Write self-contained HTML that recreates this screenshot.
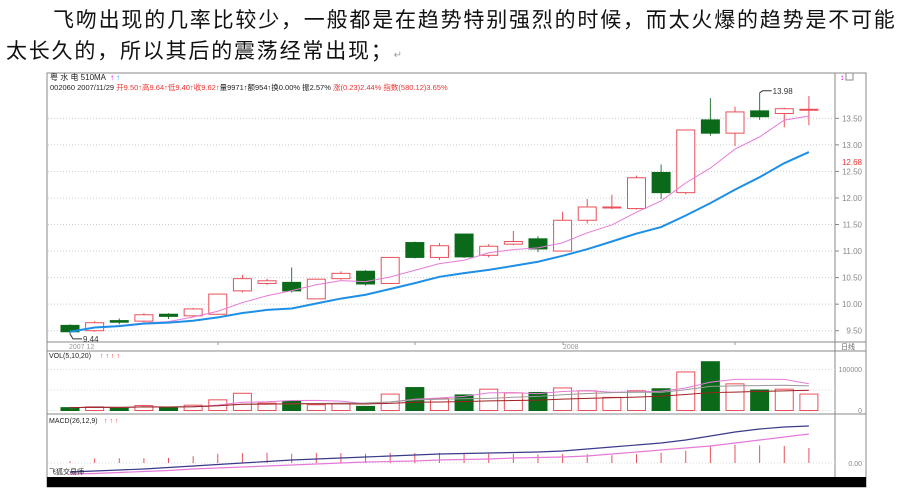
<!DOCTYPE html>
<html><head><meta charset="utf-8">
<style>
body{margin:0;width:915px;height:492px;background:#fff;overflow:hidden;position:relative;font-family:"Liberation Sans","Noto Sans CJK SC",sans-serif;}
.t{position:absolute;font-size:21px;letter-spacing:1.8px;color:#111;white-space:nowrap;font-family:"Liberation Sans","Noto Sans CJK SC",sans-serif;}
svg{position:absolute;left:0;top:0;}
</style></head><body>
<div class="t" style="left:53px;top:4px;">飞吻出现的几率比较少，一般都是在趋势特别强烈的时候，而太火爆的趋势是不可能</div>
<div class="t" style="left:6px;top:35px;">太长久的，所以其后的震荡经常出现；<span style="font-size:10px;color:#999">↵</span></div>
<svg id="chart" width="915" height="492" font-family="Liberation Sans, Noto Sans CJK SC, sans-serif"></svg>
<script>
const opens  =[9.60,9.50,9.69,9.68,9.81,9.78,9.81,10.25,10.39,10.41,10.10,10.48,10.62,10.39,11.16,10.88,11.32,10.92,11.13,11.23,11.00,11.58,11.83,11.80,12.48,12.10,13.47,13.22,13.64,13.59,13.67];
const closes =[9.48,9.65,9.66,9.80,9.77,9.91,10.19,10.48,10.44,10.25,10.47,10.58,10.38,10.88,10.88,11.10,10.89,11.09,11.18,11.04,11.58,11.83,11.83,12.38,12.10,13.28,13.22,13.62,13.53,13.68,13.67];
const highs  =[9.62,9.68,9.73,9.83,9.83,9.93,10.19,10.55,10.48,10.69,10.47,10.62,10.64,10.88,11.18,11.15,11.33,11.13,11.38,11.28,11.74,11.98,12.06,12.42,12.63,13.28,13.88,13.72,13.98,13.70,13.92];
const lows   =[9.44,9.48,9.62,9.66,9.72,9.76,9.81,10.22,10.36,10.22,10.10,10.46,10.35,10.38,10.86,10.83,10.87,10.88,11.11,10.98,11.00,11.52,11.79,11.78,11.98,12.07,13.17,12.98,13.47,13.33,13.37];
const volumes=[7,9,7,12,7,13,26,42,18,23,14,17,10,40,56,29,38,52,43,44,55,48,32,48,53,94,119,65,50,52,40];
const dif =[-0.9,-0.8,-0.7,-0.6,-0.45,-0.3,-0.15,0,0.15,0.3,0.4,0.5,0.6,0.7,0.8,0.9,0.95,1.0,1.05,1.1,1.2,1.4,1.6,1.8,2.0,2.3,2.7,3.1,3.4,3.6,3.7];
const dea =[-1.1,-1.05,-0.95,-0.85,-0.75,-0.6,-0.5,-0.4,-0.3,-0.2,-0.1,0,0.1,0.15,0.2,0.3,0.35,0.4,0.5,0.55,0.6,0.7,0.9,1.1,1.3,1.5,1.7,2.0,2.3,2.6,2.9];
const macdHist=[0.5,1.3,1.4,1.4,1.5,2.0,2.7,2.9,3.0,2.7,3.0,2.9,2.7,3.0,2.9,3.0,2.9,2.7,2.7,2.5,2.6,2.6,2.3,2.6,3.0,3.6,5.2,5.4,5.2,5.0,4.4];
const priceTicks=[9.5,10,10.5,11,11.5,12,12.5,13,13.5];

const svg=document.getElementById('chart');
const NS='http://www.w3.org/2000/svg';
function mk(tag,attrs,parent){const e=document.createElementNS(NS,tag);for(const k in attrs)e.setAttribute(k,attrs[k]);(parent||svg).appendChild(e);return e;}
const xAt=i=>70+i*24.63;
const yP=p=>118.3+(13.5-p)*53.1;
const yV=v=>410.5-v*0.41;
const yM=v=>463-v*10;
const yH=v=>463-v*3.4;
function ma(arr,n){return arr.map((_,i)=>{const s=arr.slice(Math.max(0,i-n+1),i+1);return s.reduce((a,b)=>a+b,0)/s.length;});}

let e;
e=mk('rect',{x:47,y:73,width:819,height:414,fill:'#fff',stroke:'#888','stroke-width':1});

mk('line',{x1:835,y1:73,x2:835,y2:477,stroke:'#888'});
mk('line',{x1:47,y1:342,x2:866,y2:342,stroke:'#888'});
mk('line',{x1:47,y1:351,x2:866,y2:351,stroke:'#888'});
mk('line',{x1:47,y1:414,x2:866,y2:414,stroke:'#888'});
e=mk('rect',{x:47,y:477,width:819,height:10,fill:'#000'});


e=mk('text',{x:50,y:80,'font-size':8,fill:'#222'});e.textContent='粤 水 电 510MA';

mk('text',{x:110,y:80,'font-size':8,fill:'#e0e'}).textContent='↑';
mk('text',{x:116,y:80,'font-size':8,fill:'#29f'}).textContent='↑';
e=mk('text',{x:50,y:90,'font-size':7.5,fill:'#222'});

e.innerHTML='002060 2007/11/29 <tspan fill="#e33">开9.50↑高9.64↑低9.40↑收9.62↑</tspan>量9971↑额954↑换0.00% 振2.57% <tspan fill="#e33">涨(0.23)2.44% 指数(580.12)3.65%</tspan>';
e=mk('text',{x:840,y:80,'font-size':8,fill:'#e0e'});e.textContent='↕';
e=mk('rect',{x:846,y:73,width:7,height:7,fill:'none',stroke:'#888'});


priceTicks.forEach(p=>{
  mk('line',{x1:48,y1:yP(p),x2:835,y2:yP(p),stroke:'#ccc','stroke-dasharray':'1,2'});
  mk('line',{x1:835,y1:yP(p),x2:839,y2:yP(p),stroke:'#888'});
  const t=mk('text',{x:862,y:yP(p)+3,'font-size':8,fill:'#888','text-anchor':'end'});
  t.textContent=p.toFixed(2);
  
  
});
e=mk('text',{x:862,y:165,'font-size':8,fill:'#e33','text-anchor':'end'});e.textContent='12.68';


closes.forEach((c,i)=>{
  const o=opens[i],x=xAt(i),up=c>=o,col=up?'#e8505a':'#0b6a1a';
  const g=mk('g',{});
  
  
  mk('line',{x1:x,y1:yP(highs[i]),x2:x,y2:yP(lows[i]),stroke:up?col:'#2a7a35','stroke-width':1},g);
  const top=yP(Math.max(o,c)),h=Math.max(1,Math.abs(yP(o)-yP(c)));
  mk('rect',{x:x-9,y:top,width:18,height:h,fill:up?'#fff':col,stroke:col,'stroke-width':1},g);
});
function poly(vals,yf,color,w,name){
  const p=mk('polyline',{points:vals.map((v,i)=>xAt(i)+','+yf(v)).join(' '),fill:'none',stroke:color,'stroke-width':w});
  
  
}
poly(ma(closes,5),yP,'#e67ad8',1,'ma5-line');
poly(ma(closes,10).map((v,i)=>v-0.05*Math.min(i,10)/10),yP,'#1e8fe6',2,'ma10-line');
mk('polyline',{points:`${xAt(28)},${yP(13.98)} ${xAt(28)+3},${yP(13.98)-2} ${xAt(28)+12},${yP(13.98)-2}`,fill:'none',stroke:'#333'});
e=mk('text',{x:xAt(28)+13,y:yP(13.98)+1,'font-size':8,fill:'#333'});e.textContent='13.98';
mk('polyline',{points:`${xAt(0)},${yP(9.44)} ${xAt(0)+3},${yP(9.44)+5} ${xAt(0)+12},${yP(9.44)+5}`,fill:'none',stroke:'#333'});
e=mk('text',{x:xAt(0)+13,y:yP(9.44)+8,'font-size':8,fill:'#333'});e.textContent='9.44';

e=mk('text',{x:69,y:349,'font-size':7,fill:'#999'});e.textContent='2007  12';
e=mk('text',{x:563,y:349,'font-size':7,fill:'#999'});e.textContent='2008';
e=mk('text',{x:841,y:349,'font-size':7,fill:'#666'});e.textContent='日线';
[218,415,563,735].forEach(x=>mk('line',{x1:x,y1:342,x2:x,y2:345,stroke:'#999'}));

e=mk('text',{x:49,y:358,'font-size':7,fill:'#222'});e.textContent='VOL(5,10,20) ';

mk('text',{x:100,y:358,'font-size':7,fill:'#e33'}).textContent='↑ ↑ ↑ ↑';
[0,50,100].forEach(v=>mk('line',{x1:48,y1:yV(v),x2:835,y2:yV(v),stroke:'#ddd','stroke-dasharray':'1,2'}));
e=mk('text',{x:862,y:372,'font-size':7,fill:'#888','text-anchor':'end'});e.textContent='100000';
e=mk('text',{x:862,y:413,'font-size':7,fill:'#888','text-anchor':'end'});e.textContent='0';
volumes.forEach((v,i)=>{
  const up=closes[i]>=opens[i],x=xAt(i);
  const r=mk('rect',{x:x-9,y:yV(v),width:18,height:yV(0)-yV(v),fill:up?'#fff':'#0b6a1a',stroke:up?'#e8505a':'#0b6a1a'});
  
  
});
poly(ma(volumes,5),yV,'#e67ad8',1,'vol-ma5-line');
poly(ma(volumes,10),yV,'#999',1,'vol-ma10-line');
poly(ma(volumes,20),yV,'#a02020',1,'vol-ma20-line');

e=mk('text',{x:49,y:423,'font-size':7,fill:'#222'});e.textContent='MACD(26,12,9)';

mk('text',{x:104,y:423,'font-size':7,fill:'#e33'}).textContent='↑ ↑ ↑';
mk('line',{x1:48,y1:yM(0),x2:835,y2:yM(0),stroke:'#ddd','stroke-dasharray':'1,2'});
e=mk('text',{x:862,y:466,'font-size':7,fill:'#888','text-anchor':'end'});e.textContent='0.00';
macdHist.forEach((v,i)=>{
  const l=mk('line',{x1:xAt(i),y1:yH(0),x2:xAt(i),y2:yH(v),stroke:'#e8505a','stroke-width':1});
  
  
});
poly(dif,yM,'#3a3a8a',1.2,'macd-dif-line');
poly(dea,yM,'#e67ad8',1.2,'macd-dea-line');
e=mk('text',{x:49,y:474,'font-size':7,fill:'#222'});e.textContent='飞狐交易师';

</script>
</body></html>
